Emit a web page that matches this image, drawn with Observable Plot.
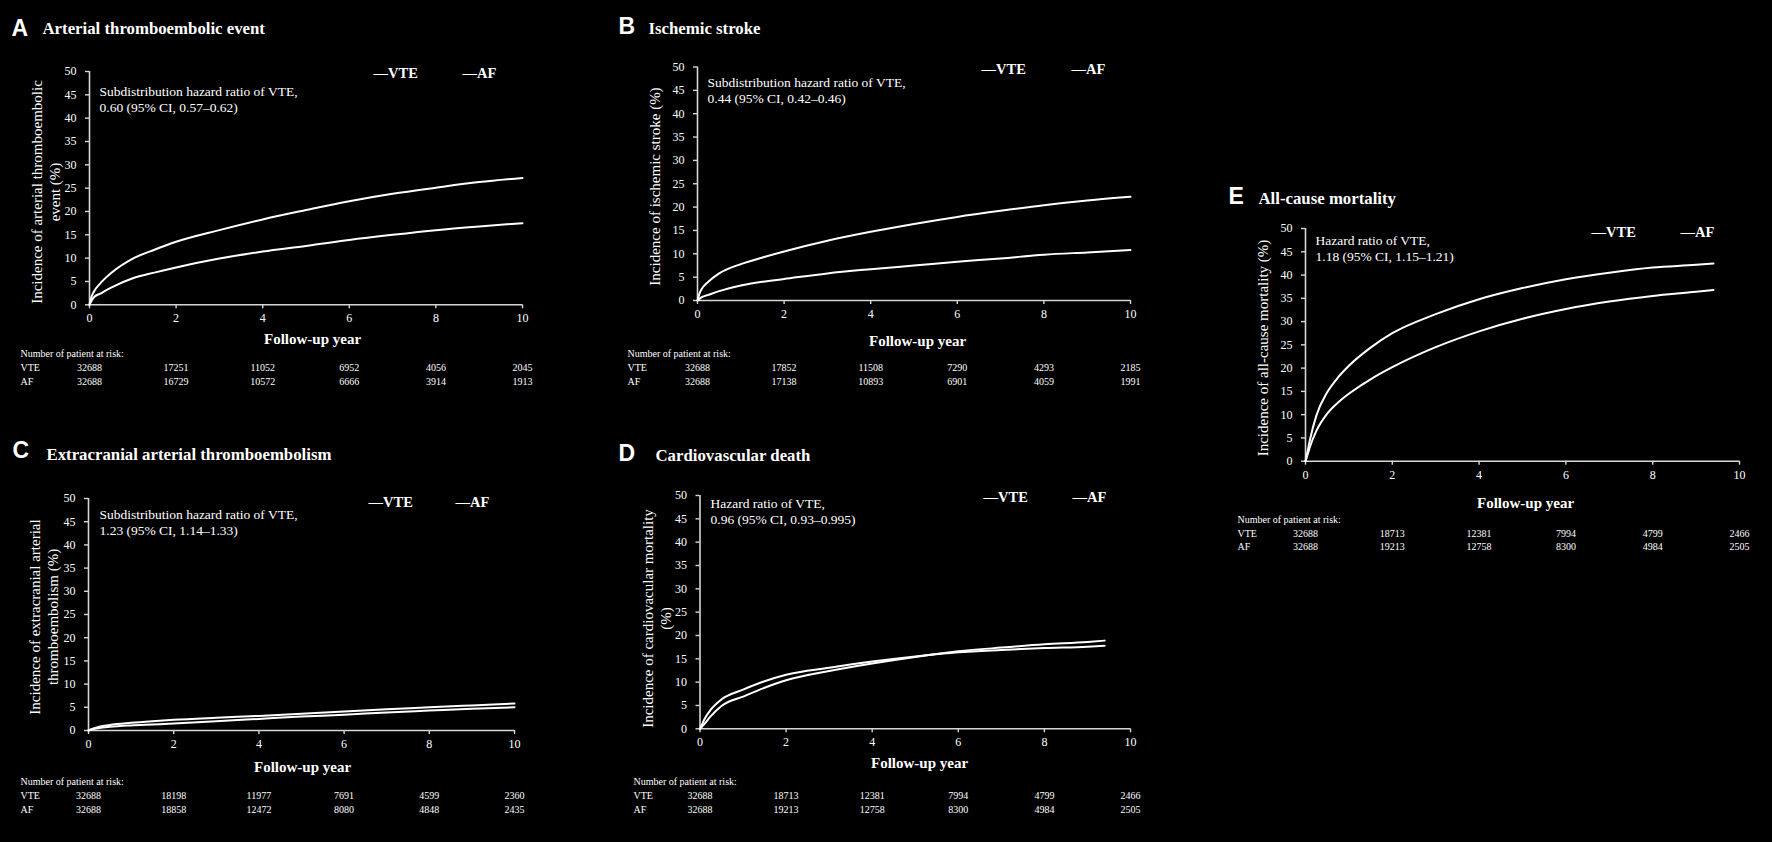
<!DOCTYPE html>
<html>
<head>
<meta charset="utf-8">
<script src="https://cdn.jsdelivr.net/npm/d3@7"></script>
<script src="https://cdn.jsdelivr.net/npm/@observablehq/plot@0.6"></script>
<style>
  html, body { margin: 0; padding: 0; background: #000; }
  #fig { position: relative; width: 1772px; height: 842px; background: #000; overflow: hidden; }
  #fig > div { position: absolute; }
</style>
</head>
<body>
<div id="fig"></div>
<script>
// ---------------- DATA ----------------
const xTicks = [0, 2, 4, 6, 8, 10];
const yTicks = [0, 5, 10, 15, 20, 25, 30, 35, 40, 45, 50];
const riskYears = [0, 2, 4, 6, 8, 10];
const groups = ["VTE", "AF"];

// Panel A: Arterial thromboembolic event
const aYears = [0, 0.05, 0.1, 0.25, 0.5, 1, 1.5, 2, 3, 4, 5, 6, 7, 8, 9, 10];
const aVTE = [0, 0.9, 1.6, 2.4, 3.7, 5.7, 6.9, 8.0, 9.9, 11.4, 12.6, 13.9, 15.0, 16.0, 16.8, 17.5];
const aAF  = [0, 1.8, 2.8, 4.6, 6.8, 9.9, 11.8, 13.5, 16.0, 18.3, 20.3, 22.2, 23.8, 25.1, 26.3, 27.2];
const aRiskVTE = [32688, 17251, 11052, 6952, 4056, 2045];
const aRiskAF  = [32688, 16729, 10572, 6666, 3914, 1913];

// Panel B: Ischemic stroke
const bYears = [0, 0.05, 0.1, 0.25, 0.5, 1, 1.5, 2, 3, 4, 5, 6, 7, 8, 9, 10];
const bVTE = [0, 0.4, 0.7, 1.2, 2.0, 3.2, 4.0, 4.6, 5.8, 6.7, 7.5, 8.3, 9.0, 9.8, 10.3, 10.8];
const bAF  = [0, 1.6, 2.5, 4.0, 5.8, 7.8, 9.2, 10.5, 12.8, 14.7, 16.4, 17.9, 19.2, 20.4, 21.4, 22.2];
const bRiskVTE = [32688, 17852, 11508, 7290, 4293, 2185];
const bRiskAF  = [32688, 17138, 10893, 6901, 4059, 1991];

// Panel C: Extracranial arterial thromboembolism
const cYears = [0, 0.05, 0.1, 0.25, 0.5, 1, 1.5, 2, 3, 4, 5, 6, 7, 8, 9, 10];
const cVTE = [0, 0.2, 0.4, 0.8, 1.2, 1.65, 2.0, 2.3, 2.75, 3.15, 3.6, 4.1, 4.6, 5.0, 5.4, 5.8];
const cAF  = [0, 0.15, 0.3, 0.55, 0.8, 1.1, 1.3, 1.5, 2.0, 2.5, 3.0, 3.4, 3.9, 4.3, 4.7, 5.0];
const cRiskVTE = [32688, 18198, 11977, 7691, 4599, 2360];
const cRiskAF  = [32688, 18858, 12472, 8080, 4848, 2435];

// Panel D: Cardiovascular death
const dYears = [0, 0.05, 0.1, 0.25, 0.5, 1, 1.5, 2, 3, 4, 5, 6, 7, 8, 9, 9.4];
const dVTE = [0, 1.0, 2.0, 4.1, 6.3, 8.4, 10.2, 11.6, 13.1, 14.4, 15.5, 16.4, 16.9, 17.3, 17.6, 17.8];
const dAF  = [0, 0.5, 1.0, 2.7, 4.9, 6.9, 8.8, 10.4, 12.4, 14.0, 15.4, 16.6, 17.4, 18.1, 18.6, 18.9];
const dRiskVTE = [32688, 18713, 12381, 7994, 4799, 2466];
const dRiskAF  = [32688, 19213, 12758, 8300, 4984, 2505];

// Panel E: All-cause mortality
const eYears = [0, 0.05, 0.1, 0.25, 0.5, 0.75, 1, 1.5, 2, 3, 4, 5, 6, 7, 8, 9, 9.4];
const eVTE = [0, 2.2, 4.5, 9.8, 14.8, 18.0, 20.5, 24.4, 27.5, 31.6, 34.8, 37.2, 39.1, 40.5, 41.6, 42.2, 42.5];
const eAF  = [0, 1.5, 3.0, 6.5, 10.2, 12.6, 14.5, 17.6, 20.2, 24.5, 27.9, 30.6, 32.7, 34.3, 35.5, 36.4, 36.8];
const eRiskVTE = [32688, 18713, 12381, 7994, 4799, 2466];
const eRiskAF  = [32688, 19213, 12758, 8300, 4984, 2505];

// Texts
const panelLetters = ["A", "B", "C", "D", "E"];
const panelTitles = ["Arterial thromboembolic event", "Ischemic stroke", "Extracranial arterial thromboembolism", "Cardiovascular death", "All-cause mortality"];
const yLabels = [
  "Incidence of arterial thromboembolic\nevent (%)",
  "Incidence of ischemic stroke (%)",
  "Incidence of extracranial arterial\nthromboembolism (%)",
  "Incidence of cardiovacular mortality\n(%)",
  "Incidence of all-cause mortality (%)"
];
const notes = [
  "Subdistribution hazard ratio of VTE,\n0.60 (95% CI, 0.57\u20130.62)",
  "Subdistribution hazard ratio of VTE,\n0.44 (95% CI, 0.42\u20130.46)",
  "Subdistribution hazard ratio of VTE,\n1.23 (95% CI, 1.14\u20131.33)",
  "Hazard ratio of VTE,\n0.96 (95% CI, 0.93\u20130.995)",
  "Hazard ratio of VTE,\n1.18 (95% CI, 1.15\u20131.21)"
];
const xLabel = "Follow-up year";
const riskHeader = "Number of patient at risk:";

// ---------------- LAYOUT (page pixels) ----------------
const layouts = [
  {L: 0,    T: 0,   W: 600, H: 420, fx0: 89,   fx1: 522,  fy50: 71,  fy0: 304.3,
   letter: [11, 35], title: [42, 33], legend: [373, 462, 73], note: [99, 91],
   ylab: [45, 191.5], xlab: [312, 339], risk: [20, 353, 367, 381]},
  {L: 600,  T: 0,   W: 600, H: 420, fx0: 697,  fx1: 1130, fy50: 66.5, fy0: 300,
   letter: [618, 33], title: [648, 33], legend: [981, 1071, 69], note: [707, 82],
   ylab: [654, 186], xlab: [917, 341], risk: [627, 353, 367, 381]},
  {L: 0,    T: 420, W: 600, H: 422, fx0: 88,   fx1: 514,  fy50: 498, fy0: 730,
   letter: [12, 457], title: [46, 459], legend: [368, 455, 502], note: [99, 514],
   ylab: [43, 616.5], xlab: [302, 767], risk: [20, 781, 795, 809]},
  {L: 600,  T: 420, W: 600, H: 422, fx0: 699.5, fx1: 1130, fy50: 495, fy0: 728.3,
   letter: [618, 460], title: [655, 460], legend: [983, 1072, 497], note: [710, 503],
   ylab: [656, 618], xlab: [919, 763], risk: [633, 781, 795, 809]},
  {L: 1200, T: 160, W: 572, H: 420, fx0: 1305, fx1: 1739, fy50: 228, fy0: 460.7,
   letter: [1228, 203], title: [1258, 203], legend: [1591, 1680, 232], note: [1315, 240],
   ylab: [1262, 347.5], xlab: [1525, 503], risk: [1237, 519.3, 533.3, 546.7]}
];

const series = [
  [aYears, aVTE, aAF, aRiskVTE, aRiskAF],
  [bYears, bVTE, bAF, bRiskVTE, bRiskAF],
  [cYears, cVTE, cAF, cRiskVTE, cRiskAF],
  [dYears, dVTE, dAF, dRiskVTE, dRiskAF],
  [eYears, eVTE, eAF, eRiskVTE, eRiskAF]
];

const SERIF = "'Liberation Serif', 'Times New Roman', serif";
const SANS = "'Liberation Sans', Arial, sans-serif";
const axisColor = "#d6d6d6";

function makePanel(k) {
  const g = layouts[k];
  const [years, vte, af, riskVTE, riskAF] = series[k];
  const marginLeft = g.fx0 - g.L, marginRight = g.L + g.W - g.fx1;
  const marginTop = g.fy50 - g.T, marginBottom = g.T + g.H - g.fy0;
  const at = (px, py) => ({frameAnchor: "top-left", dx: px - g.fx0, dy: py - g.fy50});
  const atBottom = (py) => ({frameAnchor: "bottom", dy: py - g.fy0});

  const rows = [];
  years.forEach((t, i) => rows.push({year: t, value: vte[i], group: groups[0]}));
  years.forEach((t, i) => rows.push({year: t, value: af[i], group: groups[1]}));

  const noteSize = 13.5, noteLH = 16 / 13.5;
  const ylabSize = 15;

  const plot = Plot.plot({
    width: g.W, height: g.H,
    marginLeft, marginRight, marginTop, marginBottom,
    style: {background: "#000", color: "#fff", fontFamily: SERIF, overflow: "visible"},
    x: {domain: [0, 10]},
    y: {domain: [0, 50]},
    marks: [
      Plot.ruleY([0], {stroke: axisColor, strokeWidth: 1.6}),
      Plot.ruleX([0], {stroke: axisColor, strokeWidth: 1.6}),
      Plot.axisX({ticks: xTicks, tickSize: 4, tickPadding: 5, label: null, stroke: axisColor, strokeWidth: 1.4, fontSize: 12, fontFamily: SERIF, fill: "#fff"}),
      Plot.axisY({ticks: yTicks, tickSize: 4, tickPadding: 9, label: null, stroke: axisColor, strokeWidth: 1.4, fontSize: 12, fontFamily: SERIF, fill: "#fff"}),
      Plot.line(rows, {x: "year", y: "value", z: "group", stroke: "#fff", strokeWidth: 2, curve: "monotone-x"}),
      // title
      Plot.text([panelLetters[k]], {...at(g.letter[0], g.letter[1]), textAnchor: "start", lineAnchor: "bottom", fontFamily: SANS, fontWeight: "bold", fontSize: 23}),
      Plot.text([panelTitles[k]], {...at(g.title[0], g.title[1]), textAnchor: "start", lineAnchor: "bottom", fontWeight: "bold", fontSize: 16.8}),
      // legend
      Plot.text(["\u2014" + groups[0]], {...at(g.legend[0], g.legend[2]), textAnchor: "start", lineAnchor: "middle", fontWeight: "bold", fontSize: 14.5}),
      Plot.text(["\u2014" + groups[1]], {...at(g.legend[1], g.legend[2]), textAnchor: "start", lineAnchor: "middle", fontWeight: "bold", fontSize: 14.5}),
      // hazard ratio note
      Plot.text([notes[k]], {...at(g.note[0], g.note[1] - 6.6), textAnchor: "start", lineAnchor: "top", fontSize: noteSize, lineHeight: noteLH}),
      // y label
      Plot.text([yLabels[k]], {...at(g.ylab[0], g.ylab[1]), rotate: -90, textAnchor: "middle", lineAnchor: "middle", fontSize: ylabSize, lineHeight: 1.2}),
      // x label
      Plot.text([xLabel], {...at(g.xlab[0], g.xlab[1]), textAnchor: "middle", lineAnchor: "middle", fontWeight: "bold", fontSize: 15}),
      // number at risk
      Plot.text([riskHeader], {...at(g.risk[0], g.risk[1]), textAnchor: "start", lineAnchor: "middle", fontSize: 10}),
      Plot.text([groups[0]], {...at(g.risk[0], g.risk[2]), textAnchor: "start", lineAnchor: "middle", fontSize: 10}),
      Plot.text([groups[1]], {...at(g.risk[0], g.risk[3]), textAnchor: "start", lineAnchor: "middle", fontSize: 10}),
      Plot.text(riskVTE, {x: (d, i) => riskYears[i], text: (d) => String(d), ...atBottom(g.risk[2]), textAnchor: "middle", lineAnchor: "middle", fontSize: 10}),
      Plot.text(riskAF, {x: (d, i) => riskYears[i], text: (d) => String(d), ...atBottom(g.risk[3]), textAnchor: "middle", lineAnchor: "middle", fontSize: 10})
    ]
  });
  const wrap = document.createElement("div");
  wrap.style.left = g.L + "px";
  wrap.style.top = g.T + "px";
  wrap.appendChild(plot);
  document.getElementById("fig").appendChild(wrap);
}

for (let k = 0; k < 5; k++) makePanel(k);
</script>
</body>
</html>
